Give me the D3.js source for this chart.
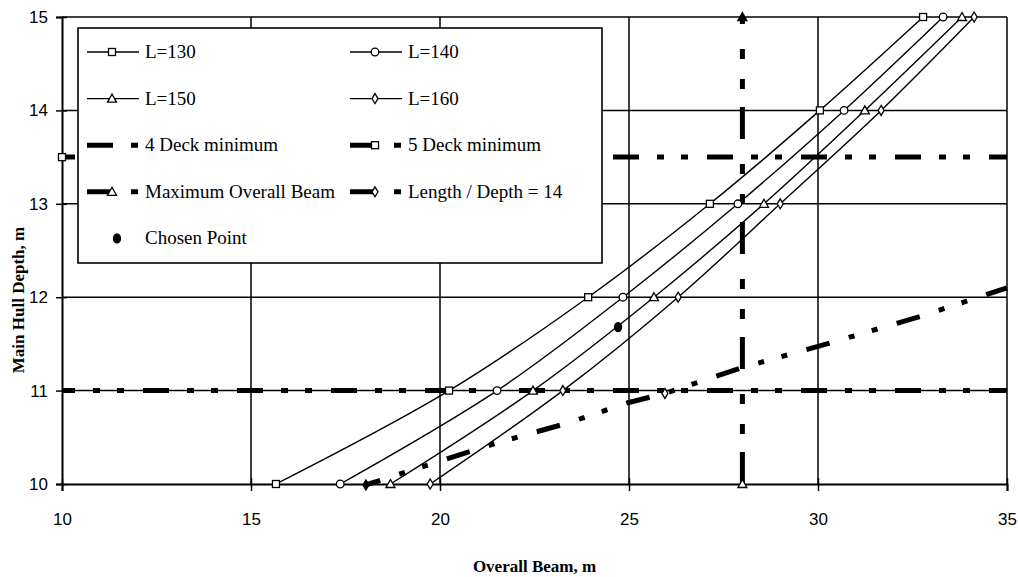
<!DOCTYPE html>
<html>
<head>
<meta charset="utf-8">
<script src="https://cdn.jsdelivr.net/npm/d3@7"></script>
<style>
  body { margin: 0; background: #fff; }
</style>
</head>
<body>
<div id="chart"></div>
<script>
// values
var depths   = [10, 11, 12, 13, 14, 15];
var beamL130 = [15.66, 20.24, 23.92, 27.14, 30.05, 32.78];
var beamL140 = [17.36, 21.51, 24.84, 27.88, 30.69, 33.31];
var beamL150 = [18.69, 22.46, 25.66, 28.57, 31.24, 33.81];
var beamL160 = [19.74, 23.25, 26.30, 29.00, 31.67, 34.13];

var fourDeckBeam = [10, 35], fourDeckDepth = [11, 11];
var fiveDeckBeam = [10, 35], fiveDeckDepth = [13.5, 13.5];
var maxBeamBeam  = [28, 28], maxBeamDepth  = [10, 15];
var ldBeam  = [18.04, 19.81, 21.51, 23.36, 24.97, 25.95, 27.94, 30.32, 32.75, 35.0];
var ldDepth = [9.99, 10.22, 10.44, 10.65, 10.87, 10.97, 11.24, 11.51, 11.80, 12.10];
var chosenBeam = [24.71], chosenDepth = [11.68];

var xTicks = [10, 15, 20, 25, 30, 35];
var yTicks = [10, 11, 12, 13, 14, 15];

var W = 1018, H = 577;
var margin = { top: 17, right: 11, bottom: 93, left: 62 },
    width = W - margin.left - margin.right,
    height = H - margin.top - margin.bottom;

var svg = d3.select('#chart').append('svg')
    .attr('width', W).attr('height', H)
    .style('background', '#fff');

var g = svg.append('g').attr('transform', `translate(${margin.left},${margin.top})`);

var x = d3.scaleLinear().domain([10, 35]).range([0, width]);
var y = d3.scaleLinear().domain([10, 15]).range([height, 0]);

var pts = (xs, ys) => xs.map((v, i) => [v, ys[i]]);

// grid
g.append('g').selectAll('line').data(xTicks.slice(1)).enter().append('line')
    .attr('x1', d => x(d)).attr('x2', d => x(d)).attr('y1', 0).attr('y2', height)
    .attr('stroke', '#000').attr('stroke-width', 1.5);
g.append('g').selectAll('line').data(yTicks.slice(1)).enter().append('line')
    .attr('x1', 0).attr('x2', width).attr('y1', d => y(d)).attr('y2', d => y(d))
    .attr('stroke', '#000').attr('stroke-width', 1.5);

// axes
var xAxis = g.append('g').attr('transform', `translate(0,${height})`)
    .call(d3.axisBottom(x).tickValues(xTicks).tickFormat(d3.format('d')).tickSize(7).tickPadding(22));
var yAxis = g.append('g')
    .call(d3.axisLeft(y).tickValues(yTicks).tickFormat(d3.format('d')).tickSize(6).tickPadding(8));
[xAxis, yAxis].forEach(a => {
  a.select('.domain').attr('stroke-width', 2);
  a.selectAll('.tick line').attr('stroke-width', 1.5);
  a.selectAll('text').style('font', '17px "Liberation Sans", Arial, sans-serif').attr('fill', '#000');
});
xAxis.selectAll('.tick line').attr('y1', -6);
yAxis.selectAll('.tick line').attr('x1', 5).attr('x2', -6);

var line = d3.line().x(d => x(d[0])).y(d => y(d[1]));
var smooth = d3.line().x(d => x(d[0])).y(d => y(d[1])).curve(d3.curveCatmullRom);

var dashH = '26,18,7,17,7,19';

// marker shapes
function marker(sel, type, filled) {
  var f = filled ? '#000' : '#fff';
  if (type == 'square') sel.append('rect').attr('x', -3.5).attr('y', -3.5).attr('width', 7).attr('height', 7);
  if (type == 'circle') sel.append('circle').attr('r', 3.8);
  if (type == 'triangle') sel.append('path').attr('d', 'M0,-4.5L4.5,3.5L-4.5,3.5Z');
  if (type == 'diamond') sel.append('path').attr('d', 'M0,-5L3,0L0,5L-3,0Z');
  if (type == 'dot') sel.append('ellipse').attr('rx', 3.5).attr('ry', 4.5);
  sel.selectAll('*').attr('fill', type == 'dot' ? '#000' : f).attr('stroke', '#000').attr('stroke-width', 1.3);
}
function drawMarkers(list, type, filledIdx) {
  list.forEach((p, i) => {
    var m = g.append('g').attr('transform', `translate(${x(p[0])},${y(p[1])})`);
    marker(m, type, filledIdx && filledIdx.indexOf(i) >= 0);
  });
}

// constraint lines
g.append('path').datum(pts(fourDeckBeam, fourDeckDepth)).attr('d', line)
    .attr('fill', 'none').attr('stroke', '#000').attr('stroke-width', 5)
    .attr('stroke-dasharray', dashH).attr('stroke-dashoffset', 13);
g.append('path').datum(pts(fiveDeckBeam, fiveDeckDepth)).attr('d', line)
    .attr('fill', 'none').attr('stroke', '#000').attr('stroke-width', 5)
    .attr('stroke-dasharray', dashH).attr('stroke-dashoffset', 13);
g.append('path').datum(pts(maxBeamBeam, maxBeamDepth)).attr('d', line)
    .attr('fill', 'none').attr('stroke', '#000').attr('stroke-width', 5)
    .attr('stroke-dasharray', '32,18,10,20,10,25');
g.append('path').datum(pts(ldBeam, ldDepth)).attr('d', line)
    .attr('fill', 'none').attr('stroke', '#000').attr('stroke-width', 5)
    .attr('stroke-dasharray', '24,20,6,18,6,20').attr('stroke-dashoffset', 9);

// length curves
var curves = [
  { beam: beamL130, m: 'square' },
  { beam: beamL140, m: 'circle' },
  { beam: beamL150, m: 'triangle' },
  { beam: beamL160, m: 'diamond' }
];
curves.forEach(c => {
  g.append('path').datum(pts(c.beam, depths)).attr('d', smooth)
      .attr('fill', 'none').attr('stroke', '#000').attr('stroke-width', 1.4);
});
curves.forEach(c => drawMarkers(pts(c.beam, depths), c.m));

drawMarkers(pts(fiveDeckBeam, fiveDeckDepth).slice(0, 1), 'square');
drawMarkers(pts(maxBeamBeam, maxBeamDepth), 'triangle', [1]);
drawMarkers([[ldBeam[0], ldDepth[0]], [ldBeam[5], ldDepth[5]]], 'diamond', [0]);
drawMarkers(pts(chosenBeam, chosenDepth), 'dot');

// legend
var lg = svg.append('g');
lg.append('rect').attr('x', 78).attr('y', 28).attr('width', 524).attr('height', 235)
    .attr('fill', '#fff').attr('stroke', '#000').attr('stroke-width', 1.6);

var legendItems = [
  { label: 'L=130', m: 'square', thick: false, col: 0, row: 0 },
  { label: 'L=140', m: 'circle', thick: false, col: 1, row: 0 },
  { label: 'L=150', m: 'triangle', thick: false, col: 0, row: 1 },
  { label: 'L=160', m: 'diamond', thick: false, col: 1, row: 1 },
  { label: '4 Deck minimum', m: null, thick: true, col: 0, row: 2 },
  { label: '5 Deck minimum', m: 'square', thick: true, col: 1, row: 2 },
  { label: 'Maximum Overall Beam', m: 'triangle', thick: true, col: 0, row: 3 },
  { label: 'Length / Depth  = 14', m: 'diamond', thick: true, col: 1, row: 3 },
  { label: 'Chosen Point', m: 'dot', thick: null, col: 0, row: 4 }
];
var colX = [87, 350], rowY0 = 52, rowStep = 46.6;
legendItems.forEach(it => {
  var lx = colX[it.col], ly = rowY0 + it.row * rowStep;
  if (it.thick === false) {
    lg.append('line').attr('x1', lx).attr('x2', lx + 52).attr('y1', ly).attr('y2', ly)
        .attr('stroke', '#000').attr('stroke-width', 1.4);
  } else if (it.thick === true) {
    lg.append('line').attr('x1', lx).attr('x2', lx + 52).attr('y1', ly).attr('y2', ly)
        .attr('stroke', '#000').attr('stroke-width', 5).attr('stroke-dasharray', '26,18,7,40');
  }
  if (it.m) {
    var m = lg.append('g').attr('transform', `translate(${lx + (it.m == 'dot' ? 30 : 25)},${ly})`);
    marker(m, it.m, false);
  }
  lg.append('text').attr('x', lx + 58).attr('y', ly + 6)
      .style('font', '19px "Liberation Serif", "Times New Roman", serif')
      .text(it.label);
});

// axis titles
svg.append('text').attr('x', margin.left + width / 2).attr('y', 572)
    .attr('text-anchor', 'middle')
    .style('font', 'bold 17px "Liberation Serif", "Times New Roman", serif')
    .text('Overall Beam, m');
svg.append('text').attr('transform', 'translate(24,300) rotate(-90)')
    .attr('text-anchor', 'middle')
    .style('font', 'bold 17px "Liberation Serif", "Times New Roman", serif')
    .text('Main Hull Depth, m');
</script>
</body>
</html>
